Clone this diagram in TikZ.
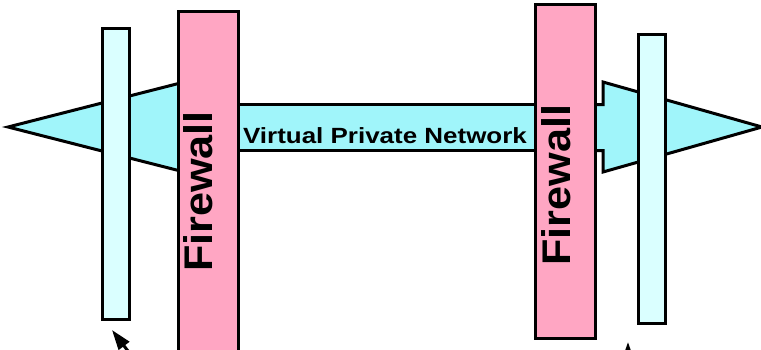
\documentclass[tikz,border=0pt]{standalone}
\usepackage{fontspec}
\setmainfont{Liberation Sans}
\usetikzlibrary{arrows.meta}
\definecolor{wallpink}{RGB}{255,166,195}
\definecolor{lancyan}{RGB}{218,255,255}
\definecolor{tunnelcyan}{RGB}{160,245,250}

\begin{document}
\begin{tikzpicture}[x=1pt, y=-1pt, line join=miter,
    tunnel/.style={draw=black, line width=3pt, fill=tunnelcyan},
    lanpanel/.style={shape=rectangle, draw=black, line width=3pt, fill=lancyan, inner sep=0pt, minimum width=27pt},
    firewall/.style={shape=rectangle, draw=black, line width=3pt, fill=wallpink, inner sep=0pt, minimum width=60pt},
    walltext/.style={rotate=90, anchor=base, inner sep=0pt, font=\fontsize{40}{40}\selectfont\bfseries},
    cutarrow/.style={line width=3pt, -{Triangle[length=20pt, width=13pt]}}]
        	% Frame and clip:
        	\clip (0, 0) rectangle (761, 349);
        	\fill[white] (0, 0) rectangle (761, 349);
        	% Tunnel arrows and bar:
        	\coordinate (LTip) at (8, 127);
        	\coordinate (RTip) at (762, 127);
        	\draw[tunnel] (LTip) -- (200, 78) -- (200, 176) -- cycle;
        	\node[shape=rectangle, draw=black, line width=3pt, fill=tunnelcyan, minimum width=300pt, minimum height=46pt, inner sep=0pt] (VPN) at (386, 127.5){};
        	\draw[tunnel] (585, 104.5) -- (603, 104.5) -- (603, 82) -- (RTip) -- (603, 172) -- (603, 150.5) -- (585, 150.5);
        	\node[anchor=base, inner sep=0pt, font=\fontsize{22}{22}\selectfont\bfseries] (VPNtext) at (385, 143){\scalebox{1.18}[1]{Virtual Private Network}};
        	% Local networks:
        	\node[lanpanel, minimum height=291pt] (LeftLAN) at (115.5, 173.5){};
        	\node[lanpanel, minimum height=289pt] (RightLAN) at (652, 179){};
        	% Firewalls:
        	\node[firewall, minimum height=346pt] (LeftWall) at (208, 184.5){};
        	\node[walltext] (LeftWallText) at (212, 191.5){\scalebox{1.08}[1]{Firewall}};
        	\node[firewall, minimum height=334pt] (RightWall) at (565.5, 171.5){};
        	\node[walltext] (RightWallText) at (570, 185){\scalebox{1.08}[1]{Firewall}};
        	% Arrows cut off at the bottom:
        	\coordinate (LeftCut) at (150, 380);
        	\coordinate (RightCut) at (628, 375);
        	\draw[cutarrow] (LeftCut) -- (112, 330);
        	\draw[cutarrow] (RightCut) -- (628, 342);
        \end{tikzpicture}
\end{document}
